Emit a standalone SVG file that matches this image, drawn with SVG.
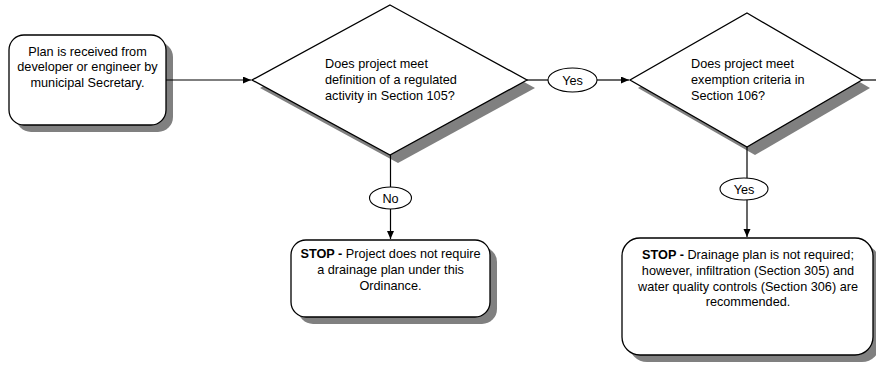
<svg xmlns="http://www.w3.org/2000/svg" width="876" height="370" viewBox="0 0 876 370">
<style>
.shape{fill:#ffffff;stroke:#000000;stroke-width:1.3}
.shadow{fill:#808080;stroke:none}
.conn{fill:none;stroke:#000000;stroke-width:1.2}
.lbl{fill:#ffffff;stroke:#000000;stroke-width:1.1}
text{font-family:"Liberation Sans",Arial,sans-serif;font-size:12.7px;fill:#000000}
.c{text-anchor:middle}
.b{font-weight:bold}
</style>
<defs>
<marker id="arr" markerUnits="userSpaceOnUse" markerWidth="9" markerHeight="8" refX="8" refY="3.5" orient="auto">
<path d="M0,0 L8,3.5 L0,7 z" fill="#000000"/>
</marker>
</defs>
<rect width="876" height="370" fill="#ffffff"/>
<g id="n-start">
<rect class="shadow" x="16" y="42" width="157" height="90" rx="15"/>
<rect class="shape" x="9" y="35" width="157" height="90" rx="15"/>
<text class="c" x="87.5" y="55.7">Plan is received from</text>
<text class="c" x="87.5" y="71.2">developer or engineer by</text>
<text class="c" x="87.5" y="86.7">municipal Secretary.</text>
</g>
<g id="n-dec105">
<polygon class="shadow" points="398,13 535,88 398,163 260,88"/>
<polygon class="shape" points="390,5 527,80 390,155 252,80"/>
<text x="325" y="68.3">Does project meet</text>
<text x="325" y="84">definition of a regulated</text>
<text x="325" y="99.5">activity in Section 105?</text>
</g>
<g id="n-dec106">
<polygon class="shadow" points="755,21 870,88 755,155 638,88"/>
<polygon class="shape" points="747,13 862,80 747,147 630,80"/>
<text x="691" y="68.3">Does project meet</text>
<text x="691" y="84">exemption criteria in</text>
<text x="691" y="99.5">Section 106?</text>
</g>
<g id="n-stop1">
<rect class="shadow" x="298" y="247" width="199" height="77" rx="15"/>
<rect class="shape" x="291" y="240" width="199" height="77" rx="15"/>
<text class="c" x="390.5" y="258.3"><tspan class="b">STOP - </tspan>Project does not require</text>
<text class="c" x="390.5" y="274">a drainage plan under this</text>
<text class="c" x="390.5" y="289.5">Ordinance.</text>
</g>
<g id="n-stop2">
<rect class="shadow" x="629" y="245" width="251" height="117" rx="18"/>
<rect class="shape" x="622" y="238" width="251" height="117" rx="18"/>
<text class="c" x="748" y="259.3"><tspan class="b">STOP - </tspan>Drainage plan is not required;</text>
<text class="c" x="748" y="275">however, infiltration (Section 305) and</text>
<text class="c" x="748" y="290.7">water quality controls (Section 306) are</text>
<text class="c" x="748" y="306.3">recommended.</text>
</g>
<g id="connectors">
<path class="conn" d="M166,80 H251" marker-end="url(#arr)"/>
<path class="conn" d="M527,80 H548"/>
<path class="conn" d="M597,80 H629" marker-end="url(#arr)"/>
<path class="conn" d="M862,80 H876"/>
<path class="conn" d="M390.5,155 V187"/>
<path class="conn" d="M390.5,209 V239" marker-end="url(#arr)"/>
<path class="conn" d="M747,147 V178"/>
<path class="conn" d="M747,200 V237" marker-end="url(#arr)"/>
<ellipse class="lbl" cx="572.5" cy="80" rx="24.5" ry="12"/>
<text class="c" x="572.5" y="84.5">Yes</text>
<ellipse class="lbl" cx="390.5" cy="198" rx="21" ry="11"/>
<text class="c" x="390.5" y="202.5">No</text>
<ellipse class="lbl" cx="744" cy="189" rx="24" ry="11"/>
<text class="c" x="744" y="193.5">Yes</text>
</g>
</svg>
